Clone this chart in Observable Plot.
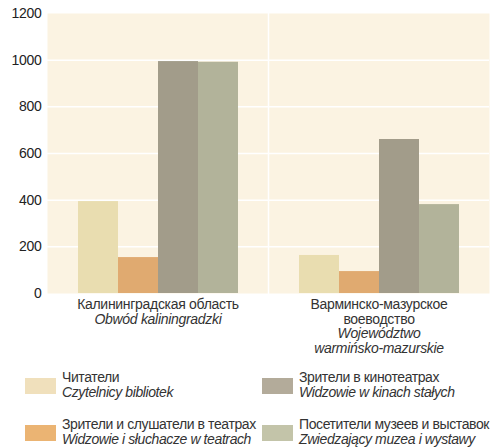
<!DOCTYPE html>
<html>
<head>
<meta charset="utf-8">
<script src="https://cdn.jsdelivr.net/npm/d3@7"></script>
<script src="https://cdn.jsdelivr.net/npm/@observablehq/plot@0.6"></script>
<style>
  html, body { margin: 0; padding: 0; background: #fff; }
  #chart { position: relative; width: 491px; height: 447px; font-family: "Liberation Sans", Arial, sans-serif; color: #333; }
  #chart svg { display: block; }
  .legend { position: absolute; left: 0; top: 0; width: 491px; }
  .item { position: absolute; display: flex; align-items: flex-start; font-size: 14px; line-height: 14.5px; letter-spacing: -0.4px; white-space: nowrap; }
  .sw { width: 31px; height: 16px; margin-right: 6px; margin-top: 8px; flex: none; }
  .it { font-style: italic; }
</style>
</head>
<body>
<div id="chart"></div>
<script>
const regionsRu = ["Калининградская область", "Варминско-мазурское\nвоеводство"];
const regionsPl = ["Obwód kaliningradzki", "Województwo\nwarmińsko-mazurskie"];
const seriesRu = ["Читатели", "Зрители и слушатели в театрах", "Зрители в кинотеатрах", "Посетители музеев и выставок"];
const seriesPl = ["Czytelnicy bibliotek", "Widzowie i słuchacze w teatrach", "Widzowie w kinach stałych", "Zwiedzający muzea i wystawy"];
const kaliningradValues = [394, 154, 994, 991];
const warmiaValues = [163, 94, 660, 381];
const yTicks = [0, 200, 400, 600, 800, 1000, 1200];
const barColors = ["#e9ddb0", "#e0aa70", "#a29c8a", "#b2b39a"];
const swatchColors = ["#f0e0bc", "#ebb473", "#b3ab9a", "#c3c4a9"];

const valuesByRegion = [kaliningradValues, warmiaValues];
const data = [];
regionsRu.forEach((r, i) => seriesRu.forEach((s, j) => data.push({region: r, series: s, value: valuesByRegion[i][j]})));
const labels = regionsRu.map((r, i) => ({region: r, ru: r, pl: "\n".repeat(r.split("\n").length) + regionsPl[i]}));

const font = '"Liberation Sans", Arial, sans-serif';

const plot = Plot.plot({
  width: 491,
  height: 360,
  marginTop: 13,
  marginBottom: 67,
  marginLeft: 46,
  marginRight: 2,
  style: {fontFamily: font, fontSize: "14px", letterSpacing: "-0.3px", color: "#333", background: "transparent"},
  fx: {domain: regionsRu, padding: 0, axis: null},
  x: {domain: seriesRu, paddingInner: 0, paddingOuter: 0.72, axis: null},
  y: {domain: [0, 1200], ticks: yTicks, axis: null},
  color: {domain: seriesRu, range: barColors},
  marks: [
    Plot.frame({fill: "#fbf3e2", stroke: null}),
    Plot.gridY(yTicks.filter(t => t > 0 && t < 1200), {stroke: "#fff", strokeOpacity: 1, strokeWidth: 1.5}),
    Plot.frame({anchor: "left", stroke: "#fff", strokeWidth: 1.5, fx: [regionsRu[1]]}),
    Plot.barY(data, {fx: "region", x: "series", y: "value", fill: "series"}),
    Plot.axisY(yTicks, {tickSize: 0, tickPadding: 6, fontSize: 14, fill: "#222", label: null, tickFormat: d => String(d), facetAnchor: "left"}),
    Plot.text(labels, {fx: "region", text: "ru", frameAnchor: "bottom", lineAnchor: "top", dy: 5, lineHeight: 1.05, fill: "#333", fontSize: 14}),
    Plot.text(labels, {fx: "region", text: "pl", frameAnchor: "bottom", lineAnchor: "top", dy: 5, lineHeight: 1.05, fill: "#333", fontSize: 14, fontStyle: "italic"})
  ]
});
const chart = document.getElementById("chart");
chart.appendChild(plot);

const legend = document.createElement("div");
legend.className = "legend";
const pos = [[25, 378], [25, 425], [262, 378], [262, 425]];
seriesRu.forEach((s, i) => {
  const item = document.createElement("div");
  item.className = "item";
  item.style.left = pos[i][0] + "px";
  item.style.top = (pos[i][1] - 8) + "px";
  const sw = document.createElement("div");
  sw.className = "sw";
  sw.style.background = swatchColors[i];
  const txt = document.createElement("div");
  txt.innerHTML = `<div>${s}</div><div class="it">${seriesPl[i]}</div>`;
  item.appendChild(sw);
  item.appendChild(txt);
  legend.appendChild(item);
});
chart.appendChild(legend);
</script>
</body>
</html>
